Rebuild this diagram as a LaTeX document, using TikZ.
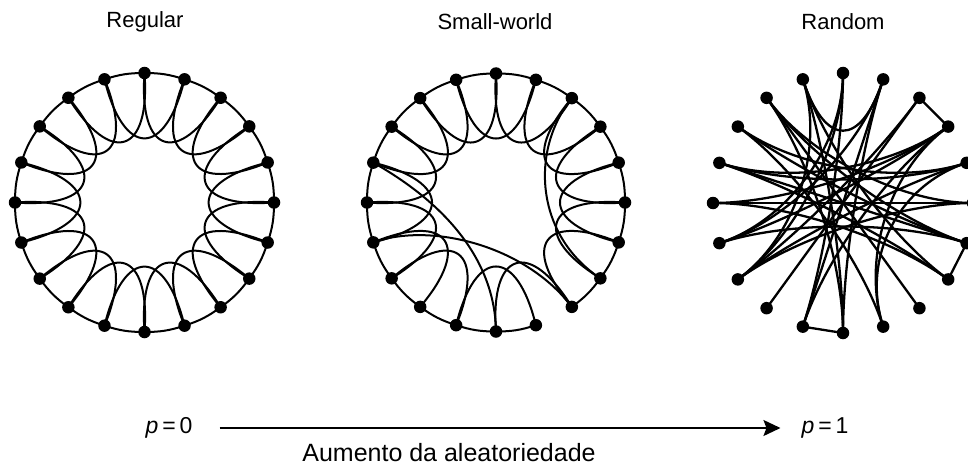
\documentclass[tikz,border=0pt]{standalone}
\usepackage{fontspec}
\setmainfont{Liberation Sans}
\usetikzlibrary{calc,arrows.meta}
\begin{document}
\begin{tikzpicture}[x=1pt,y=1pt,
  dot/.style={circle,fill=black,inner sep=0pt,minimum size=12.5pt},
  edge/.style={line width=2pt},
  redge/.style={line width=2.3pt},
  lbl/.style={font=\fontsize{22}{26}\selectfont,inner sep=0pt},
  plbl/.style={font=\fontsize{23}{27}\selectfont,inner sep=0pt},
  blbl/.style={font=\fontsize{25}{29}\selectfont,inner sep=0pt}]
\useasboundingbox (0,0) rectangle (968,467);
\coordinate (cA) at (144.5,264.5);
\coordinate (cB) at (496,264.5);
\coordinate (cC) at (843,264);
% nodes
\foreach \k in {0,...,19}{
  \node[dot] (A\k) at ($(cA)+({90-18*\k}:129.5)$) {};
  \node[dot] (B\k) at ($(cB)+({90-18*\k}:129)$) {};
  \node[dot] (C\k) at ($(cC)+({90-18*\k}:130)$) {};
}
% regular
\foreach \k in {0,...,19}{
  \pgfmathtruncatemacro{\j}{mod(\k+1,20)}
  \pgfmathtruncatemacro{\m}{mod(\k+2,20)}
  \draw[edge] (A\k.center) to[bend left=9] (A\j.center);
  \draw[edge] (A\k.center) .. controls ($(cA)+({97-18*\k}:49)$) and ($(cA)+({83-18*\m}:49)$) .. (A\m.center);
}
% small-world
\foreach \k in {0,...,19}{
  \pgfmathtruncatemacro{\j}{mod(\k+1,20)}
  \pgfmathtruncatemacro{\m}{mod(\k+2,20)}
  \ifnum\k=8 \else \draw[edge] (B\k.center) to[bend left=9] (B\j.center); \fi
  \ifnum\k=7 \else \ifnum\k=10 \else
  \draw[edge] (B\k.center) .. controls ($(cB)+({97-18*\k}:49)$) and ($(cB)+({83-18*\m}:49)$) .. (B\m.center);
  \fi\fi
}
\draw[edge] (B16.center) .. controls (445,264) and (495,207) .. (B10.center);
\draw[edge] (B14.center) .. controls (430,245) and (525,222) .. (B8.center);
\draw[edge] (B2.center) .. controls (530,317) and (535,232) .. (B7.center);
% random
\draw[redge] (C2.center) -- (C3.center);
\draw[redge] (C6.center) -- (C7.center);
\draw[redge] (C10.center) -- (C11.center);
\foreach \a/\b in {18/8,12/2,17/6,17/4,16/4,16/7,15/5,15/3,14/3,14/1,13/2,13/5,11/0,11/1,10/19,10/1,9/17,9/4,19/1,0/13,18/5,16/6,3/11,0/14,19/7,15/7,9/3,18/6,13/4,10/18,19/13,14/6,16/3}{
  \draw[redge] (C\a.center) .. controls ($(cC)+({90-18*\a}:58)$) and ($(cC)+({90-18*\b}:58)$) .. (C\b.center);
}
% labels
\node[lbl] (tA) at (145,445) {Regular};
\node[lbl] (tB) at (495,445) {Small-world};
\node[lbl] (tC) at (843,445) {Random};
\node[plbl] (p0) at (169,39) {\textit{p}\,=\,0};
\node[plbl] (p1) at (825,39) {\textit{p}\,=\,1};
\draw[line width=1.6pt,-{Stealth[length=17pt,width=16pt,inset=3pt]}] (p0.east)++(27,0) coordinate (s0) -- ($(p1.west)+(-21,0)$) coordinate (s1);
\node[blbl,anchor=base] (al) at (449,6) {Aumento da aleatoriedade};
\end{tikzpicture}
\end{document}
